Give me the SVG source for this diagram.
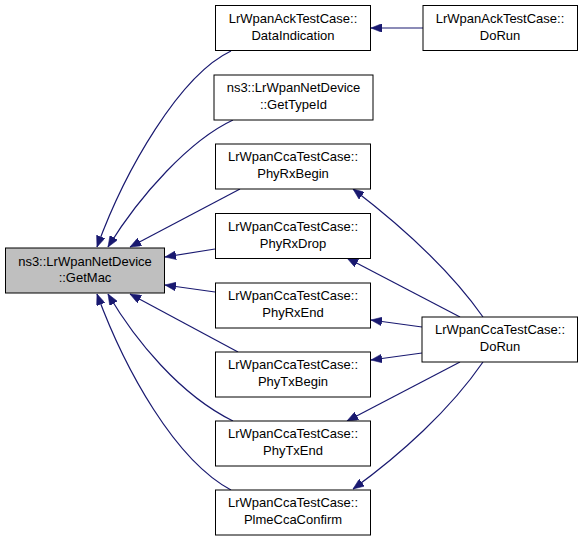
<svg xmlns="http://www.w3.org/2000/svg" width="584" height="541" viewBox="0 0 584 541">
<style>
.box{fill:#ffffff;stroke:#000000;stroke-width:1}
.hl{fill:#bfbfbf;stroke:#000000;stroke-width:1}
text{font-family:"Liberation Sans",Arial,Helvetica,sans-serif;font-size:13px;fill:#000000;text-anchor:middle}
.edge{fill:none;stroke:#191970;stroke-width:1.2}
</style>
<defs>
<marker id="ah" viewBox="0 0 10 8" refX="10" refY="4" markerWidth="11" markerHeight="8.8" markerUnits="userSpaceOnUse" orient="auto">
<path d="M0,0 L10,4 L0,8 z" fill="#191970" stroke="#191970" stroke-width="0.5"/>
</marker>
</defs>
<rect width="584" height="541" fill="#ffffff"/>
<g id="edges">
<path class="edge" marker-end="url(#ah)" d="M231,51 C180,75 125,170 97,247"/>
<path class="edge" marker-end="url(#ah)" d="M233,120 C190,140 140,195 108,247"/>
<path class="edge" marker-end="url(#ah)" d="M240,189 L130,247"/>
<path class="edge" marker-end="url(#ah)" d="M215,249 L165,257"/>
<path class="edge" marker-end="url(#ah)" d="M215,292 L165,285"/>
<path class="edge" marker-end="url(#ah)" d="M238,352 L130,294"/>
<path class="edge" marker-end="url(#ah)" d="M233,421 C180,395 135,340 108,294"/>
<path class="edge" marker-end="url(#ah)" d="M231,490 C175,460 125,370 97,294"/>
<path class="edge" marker-end="url(#ah)" d="M423,28 L371,28"/>
<path class="edge" marker-end="url(#ah)" d="M483,317 C450,270 400,225 353,189"/>
<path class="edge" marker-end="url(#ah)" d="M460,317 L347,258"/>
<path class="edge" marker-end="url(#ah)" d="M422,327 L371,320"/>
<path class="edge" marker-end="url(#ah)" d="M422,353 L371,360"/>
<path class="edge" marker-end="url(#ah)" d="M460,362 L347,421"/>
<path class="edge" marker-end="url(#ah)" d="M483,362 C450,410 400,455 353,489"/>
</g>
<g id="getmac">
<rect class="hl" x="5.5" y="248" width="159" height="45"/>
<text x="85" y="265.5">ns3::LrWpanNetDevice</text>
<text x="85" y="282">::GetMac</text>
</g>
<g id="dataindication">
<rect class="box" x="215.5" y="5.5" width="155" height="45"/>
<text x="293" y="22.5">LrWpanAckTestCase::</text>
<text x="293" y="39.5">DataIndication</text>
</g>
<g id="gettypeid">
<rect class="box" x="214" y="75" width="159" height="45"/>
<text x="293.5" y="92">ns3::LrWpanNetDevice</text>
<text x="293.5" y="109">::GetTypeId</text>
</g>
<g id="phyrxbegin">
<rect class="box" x="215.5" y="144" width="155" height="45"/>
<text x="293" y="161">LrWpanCcaTestCase::</text>
<text x="293" y="178">PhyRxBegin</text>
</g>
<g id="phyrxdrop">
<rect class="box" x="215.5" y="213.5" width="155" height="45"/>
<text x="293" y="230.5">LrWpanCcaTestCase::</text>
<text x="293" y="247.5">PhyRxDrop</text>
</g>
<g id="phyrxend">
<rect class="box" x="215.5" y="283" width="155" height="45"/>
<text x="293" y="300">LrWpanCcaTestCase::</text>
<text x="293" y="317">PhyRxEnd</text>
</g>
<g id="phytxbegin">
<rect class="box" x="215.5" y="352" width="155" height="45"/>
<text x="293" y="369">LrWpanCcaTestCase::</text>
<text x="293" y="386">PhyTxBegin</text>
</g>
<g id="phytxend">
<rect class="box" x="215.5" y="421" width="155" height="45"/>
<text x="293" y="438">LrWpanCcaTestCase::</text>
<text x="293" y="455">PhyTxEnd</text>
</g>
<g id="plmeccaconfirm">
<rect class="box" x="215.5" y="490" width="155" height="45"/>
<text x="293" y="507">LrWpanCcaTestCase::</text>
<text x="293" y="524">PlmeCcaConfirm</text>
</g>
<g id="ackdorun">
<rect class="box" x="423" y="5.5" width="154.5" height="45"/>
<text x="500" y="22.5">LrWpanAckTestCase::</text>
<text x="500" y="39.5">DoRun</text>
</g>
<g id="ccadorun">
<rect class="box" x="422" y="317" width="155.5" height="45"/>
<text x="500" y="334">LrWpanCcaTestCase::</text>
<text x="500" y="351">DoRun</text>
</g>
</svg>
